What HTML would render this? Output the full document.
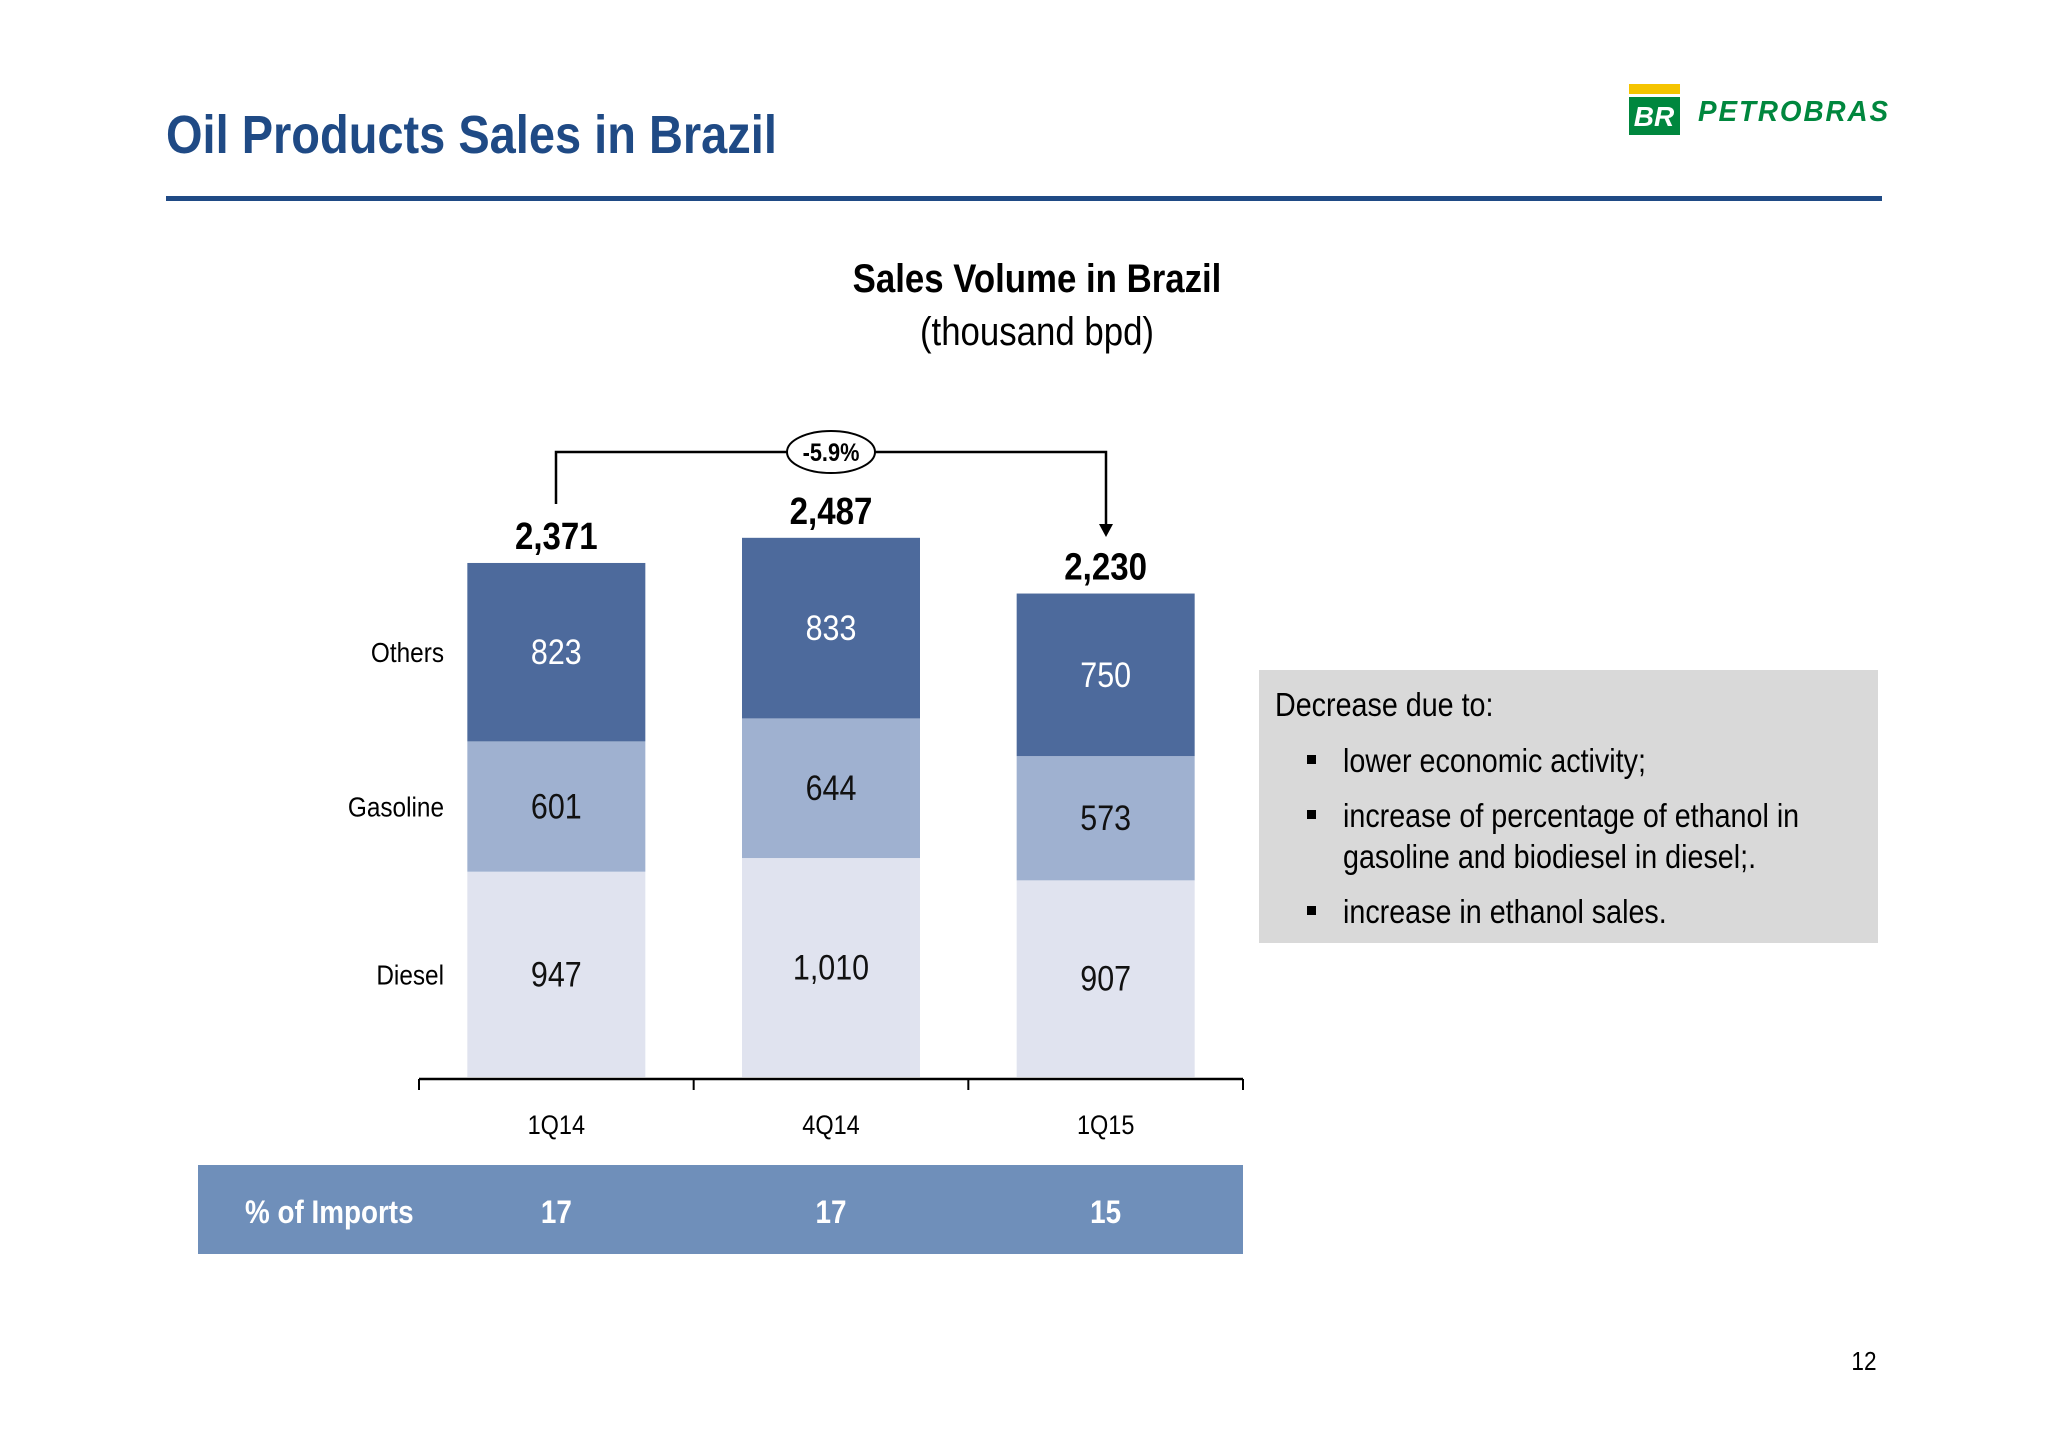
<!DOCTYPE html>
<html><head><meta charset="utf-8"><style>
html,body{margin:0;padding:0;background:#fff;}
body{width:2048px;height:1447px;overflow:hidden;position:relative;font-family:"Liberation Sans Narrow","Liberation Sans",sans-serif;}
svg text{font-family:"Liberation Sans Narrow","Liberation Sans",sans-serif;}
</style></head><body>
<svg id="chart" width="2048" height="1447" viewBox="0 0 2048 1447" xmlns="http://www.w3.org/2000/svg">
<text x="166" y="153" font-size="54" font-weight="bold" fill="#1f4a85">Oil Products Sales in Brazil</text>
<rect x="166" y="196" width="1716" height="5" fill="#1f4a85"/>
<g>
<rect x="1629" y="84" width="51" height="10" fill="#f5c400"/>
<rect x="1629" y="97" width="51" height="38" fill="#00873e"/>
<text class="keep" x="1654" y="126" font-size="28" font-weight="bold" font-style="italic" fill="#fff" text-anchor="middle">BR</text>
<text class="keep" x="1698" y="121" font-size="29" font-weight="bold" font-style="italic" fill="#00873e" letter-spacing="2" textLength="192" lengthAdjust="spacingAndGlyphs">PETROBRAS</text>
</g>
<text x="1037" y="292" font-size="40" font-weight="bold" text-anchor="middle" fill="#000">Sales Volume in Brazil</text>
<text x="1037" y="345" font-size="40" text-anchor="middle" fill="#000">(thousand bpd)</text>
<g id="bars"></g>
<g>
<polyline points="556,504 556,452 1106,452 1106,528" fill="none" stroke="#000" stroke-width="2.5"/>
<polygon points="1099,524 1113,524 1106,537" fill="#000"/>
<ellipse cx="831" cy="452" rx="44" ry="21" fill="#fff" stroke="#000" stroke-width="2"/>
<text x="831" y="461" font-size="25" font-weight="bold" text-anchor="middle">-5.9%</text>
</g>
<rect x="1259" y="670" width="619" height="273" fill="#d9d9d9"/>
<g font-size="33" fill="#000">
<text x="1275" y="716">Decrease due to:</text>
<rect x="1307" y="755" width="9" height="9"/><text x="1343" y="772">lower economic activity;</text>
<rect x="1307" y="810" width="9" height="9"/><text x="1343" y="827">increase of percentage of ethanol in</text>
<text x="1343" y="868">gasoline and biodiesel in diesel;.</text>
<rect x="1307" y="906" width="9" height="9"/><text x="1343" y="923">increase in ethanol sales.</text>
</g>
<rect x="198" y="1165" width="1045" height="89" fill="#6f8fba"/>
<text x="245" y="1223" font-size="32" font-weight="bold" fill="#fff">% of Imports</text>
<g id="imports"></g>
<text x="1864" y="1370" font-size="26" text-anchor="middle">12</text>
</svg>
<script>
const categories = ["1Q14","4Q14","1Q15"];
const diesel = [947,1010,907];
const gasoline = [601,644,573];
const others = [823,833,750];
const totals = [2371,2487,2230];
const imports = [17,17,15];
const seriesNames = ["Diesel","Gasoline","Others"];

const NS="http://www.w3.org/2000/svg";
const baseY=1077, k=0.2168, axL=419, axR=1243, barW=178;
const band=(axR-axL)/categories.length;
const xC=i=>axL+band*(i+0.5);
const yV=v=>baseY-v*k;
const fmt=v=>v.toLocaleString("en-US");
const g=document.getElementById("bars");
function mk(tag,attrs,parent){const e=document.createElementNS(NS,tag);for(const a in attrs)e.setAttribute(a,attrs[a]);parent.appendChild(e);return e;}
const series=[diesel,gasoline,others];
const colors=["#e0e3ef","#9fb1d0","#4d6a9c"];
const txtColors=["#111","#111","#fff"];
categories.forEach((c,i)=>{
  let cum=0;
  series.forEach((s,j)=>{
    const y0=yV(cum), y1=yV(cum+s[i]);
    const r=mk("rect",{x:xC(i)-barW/2,y:y1,width:barW,height:y0-y1,fill:colors[j]},g);
    
    
    const t=mk("text",{x:xC(i),y:(y0+y1)/2+12,"font-size":35,"text-anchor":"middle",fill:txtColors[j]},g);
    t.textContent=fmt(s[i]);
    
    
    cum+=s[i];
  });
  const tt=mk("text",{x:xC(i),y:yV(totals[i])-14,"font-size":38,"font-weight":"bold","text-anchor":"middle"},g);
  tt.textContent=fmt(totals[i]);
  
  
  const cl=mk("text",{x:xC(i),y:1134,"font-size":27,"text-anchor":"middle"},g);
  cl.textContent=c;
  
  
  const it=mk("text",{x:xC(i),y:1223,"font-size":32,"font-weight":"bold","text-anchor":"middle",fill:"#fff"},document.getElementById("imports"));
  it.textContent=imports[i];
  
  
});
let cum0=0;
series.forEach((s,j)=>{
  const y0=yV(cum0), y1=yV(cum0+s[0]);
  const t=mk("text",{x:444,y:(y0+y1)/2+10,"font-size":28,"text-anchor":"end"},g);
  t.textContent=seriesNames[j];
  
  
  cum0+=s[0];
});
const ax=mk("line",{x1:axL,y1:1079,x2:axR,y2:1079,stroke:"#000","stroke-width":2.5},g);


for(let i=0;i<=categories.length;i++){
  const tk=mk("line",{x1:axL+band*i,y1:1079,x2:axL+band*i,y2:1090,stroke:"#000","stroke-width":2},g);
  
  
}
// condense text horizontally to mimic narrow font
const SX=0.87;
document.querySelectorAll("svg text:not(.keep)").forEach(t=>{
  const x=parseFloat(t.getAttribute("x"));
  t.setAttribute("transform","translate("+x+",0) scale("+SX+",1) translate("+(-x)+",0)");
});
</script>
</body></html>
